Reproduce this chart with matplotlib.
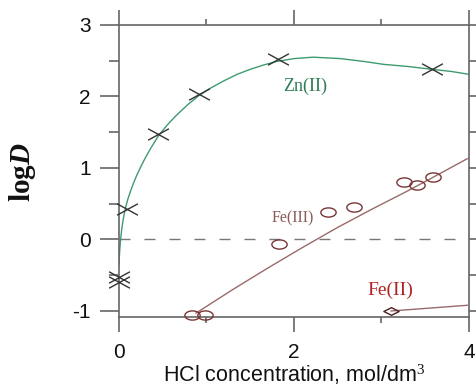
import numpy as np
import matplotlib
matplotlib.use("Agg")
import matplotlib.pyplot as plt
from matplotlib.path import Path

plt.rcParams['font.family'] = ['Liberation Sans', 'DejaVu Sans']
plt.rcParams['mathtext.fontset'] = 'custom'
plt.rcParams['mathtext.rm'] = 'Liberation Serif'
plt.rcParams['mathtext.bf'] = 'Liberation Serif:bold'
plt.rcParams['mathtext.it'] = 'Liberation Serif:italic'
plt.rcParams['mathtext.bfit'] = 'Liberation Serif:bold:italic'

# ---- data ----
zn_x = [0.0, 0.0, 0.09, 0.45, 0.91, 1.82, 3.58]
zn_y = [-0.52, -0.60, 0.42, 1.47, 2.04, 2.52, 2.38]

zn_fit_x = [0.0, 0.005, 0.01, 0.02, 0.03, 0.045, 0.06, 0.08, 0.10, 0.13, 0.16,
            0.20, 0.25, 0.30, 0.36, 0.45, 0.55, 0.65, 0.78, 0.91, 1.05, 1.20,
            1.35, 1.50, 1.65, 1.80, 2.00, 2.22, 2.53, 2.80, 3.02, 3.30, 3.58,
            3.80, 4.0]
zn_fit_y = [-0.35, -0.22, -0.12, 0.02, 0.13, 0.26, 0.36, 0.47, 0.56, 0.67, 0.77,
            0.89, 1.02, 1.14, 1.27, 1.45, 1.60, 1.73, 1.88, 2.01, 2.12, 2.22,
            2.31, 2.38, 2.44, 2.49, 2.53, 2.55, 2.53, 2.49, 2.45, 2.42, 2.38,
            2.35, 2.31]

fe3_x = [0.83, 0.98, 1.83, 2.39, 2.69, 3.26, 3.41, 3.59]
fe3_y = [-1.05, -1.05, -0.06, 0.39, 0.46, 0.81, 0.76, 0.88]

fe3_fit_x = [0.88, 1.30, 1.70, 2.10, 2.50, 2.90, 3.30, 3.65, 3.98]
fe3_fit_y = [-1.03, -0.70, -0.40, -0.11, 0.17, 0.43, 0.68, 0.91, 1.13]

fe2_x = [3.11]
fe2_y = [-1.0]
fe2_fit_x = [3.11, 3.98]
fe2_fit_y = [-1.0, -0.92]

xticks = [0, 2, 4]
yticks = [-1, 0, 1, 2, 3]

# ---- custom markers ----
cross = Path([(-1, -0.55), (1, 0.55), (-1, 0.55), (1, -0.55)],
             [Path.MOVETO, Path.LINETO, Path.MOVETO, Path.LINETO])
t = np.linspace(0, 2 * np.pi, 60)
ellipse = Path(np.column_stack([np.cos(t), 0.6 * np.sin(t)]), closed=True)
diamond = Path([(-1, 0), (0, 0.5), (1, 0), (0, -0.5), (-1, 0)], closed=True)

fig = plt.figure(figsize=(4.77, 3.89), dpi=100)
ax = fig.add_axes([119 / 477, 1 - 317 / 389, 350 / 477, 292 / 389])

ax.set_xlim(0, 4)
ax.set_ylim(-1.084, 3)

# zero dashed line
ax.plot([0, 4], [0, 0], color='#777777', lw=1.0, dashes=(7.9, 10.1), zorder=1)

# Zn(II)
ax.plot(zn_fit_x, zn_fit_y, color='#3f9a6f', lw=1.0, zorder=2)
ax.plot(zn_x, zn_y, linestyle='none', marker=cross, markersize=15,
        markeredgecolor='#333333', markerfacecolor='none', mew=1.0, zorder=3,
        clip_on=False)

# Fe(III)
ax.plot(fe3_fit_x, fe3_fit_y, color='#9a6a6a', lw=1.0, zorder=2)
ax.plot(fe3_x, fe3_y, linestyle='none', marker=ellipse, markersize=11,
        markeredgecolor='#7a3535', markerfacecolor='none', mew=1.0, zorder=3,
        clip_on=False)

# Fe(II)
ax.plot(fe2_fit_x, fe2_fit_y, color='#9a6a6a', lw=1.0, zorder=2)
ax.plot(fe2_x, fe2_y, linestyle='none', marker=diamond, markersize=11,
        markeredgecolor='#4a2020', markerfacecolor='none', mew=1.0, zorder=3,
        clip_on=False)

# labels
ax.text(2.13, 2.14, 'Zn(II)', color='#2e7d55', fontsize=13,
        family='Liberation Serif', ha='center', va='center')
ax.text(1.99, 0.29, 'Fe(III)', color='#8a5a5a', fontsize=11.5,
        family='Liberation Serif', ha='center', va='center')
ax.text(3.1, -0.71, 'Fe(II)', color='#b02525', fontsize=14,
        family='Liberation Serif', ha='center', va='center')

# ticks & spines
ax.set_xticks(xticks)
ax.set_xticks([1, 3], minor=True)
ax.set_yticks(yticks)
ax.set_yticks([-0.5, 0.5, 1.5, 2.5], minor=True)
ax.set_xticklabels([str(v) for v in xticks])
ax.set_yticklabels([str(v) for v in yticks])

for s in ax.spines.values():
    s.set_color('#666666')
    s.set_linewidth(1.2)

ax.tick_params(axis='both', which='both', direction='out', colors='#666666',
               width=1.2, top=True, right=True, labelcolor='#111111',
               labelsize=15)
ax.tick_params(axis='x', which='major', length=10.5, pad=8)
ax.tick_params(axis='x', which='minor', length=4.5)
ax.tick_params(axis='y', which='major', length=13.5, pad=7)
ax.tick_params(axis='y', which='minor', length=7)

ax.set_xlabel('HCl concentration, mol/dm$^3$', fontsize=15.5, color='#111111',
              labelpad=1)
fig.text(23 / 477, 1 - 172 / 389, r'$\mathbf{log}\mathbfit{D}$', rotation=90,
         fontsize=21, ha='center', va='center', color='#111111')

fig.savefig('out.png', dpi=100)
